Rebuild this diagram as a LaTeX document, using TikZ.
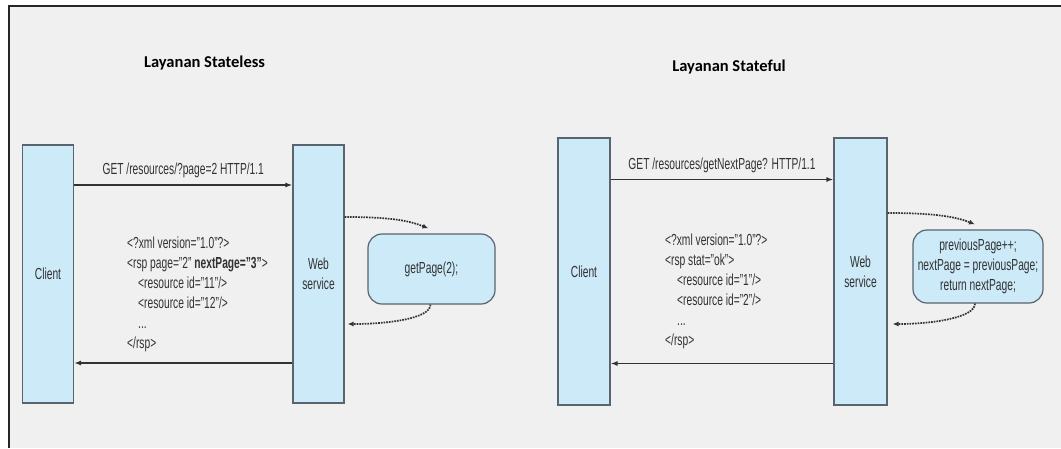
\documentclass[tikz,border=0pt]{standalone}
\usepackage{fontspec}
\setmainfont{Liberation Sans}[FakeStretch=0.64]
\newfontfamily\titlefont{Carlito}
\usepackage{xcolor}
\usetikzlibrary{arrows.meta}
\definecolor{barblue}{RGB}{204,234,248}
\definecolor{barline}{RGB}{88,100,110}
\definecolor{panelgray}{RGB}{240,240,240}
\definecolor{textgray}{RGB}{50,50,50}

\begin{document}
\begin{tikzpicture}[x=1pt, y=-1pt,
    bar/.style={draw=barline, line width=1.2pt, fill=barblue, inner sep=0pt,
      minimum width=51pt, align=center, text=textgray,
      font=\fontsize{16}{20}\selectfont},
    codebox/.style={draw=barline, line width=1.2pt, fill=barblue, rounded corners=14pt,
      inner sep=0pt, align=center, text=textgray, font=\fontsize{16}{20}\selectfont},
    xml/.style={anchor=north west, inner sep=0pt, align=left, text=textgray,
      font=\fontsize{16}{20}\selectfont},
    heading/.style={inner sep=0pt, font=\titlefont\bfseries\fontsize{16.5}{18}\selectfont},
    msg/.style={draw=textgray, line width=1.3pt, -{Latex[length=7pt,width=5pt]}},
    dotarrow/.style={draw=textgray, line width=1.7pt, densely dotted,
      -{Latex[length=6pt,width=5pt]}}]
    \useasboundingbox (0,0) rectangle (1061,448);
    \fill[panelgray] (9,6) rectangle (1061,448);
    \draw[line width=1.5pt, draw=black!85] (1061,6) -- (9,6) -- (9,448);

    % stateless
    \node[heading] (title1) at (204.5,63) {Layanan Stateless};
    \node[bar, minimum height=258pt] (client1) at (48,274) {Client};
    \node[bar, minimum height=258pt] (ws1) at (318.5,274) {Web\\service};
    \node[codebox, minimum width=127pt, minimum height=70pt] (page1) at (431.5,269) {getPage(2);};

    \draw[msg] ([yshift=89pt]client1.east) -- node[above=3pt, text=textgray,
      font=\fontsize{16}{16}\selectfont] (get1) {GET /resources/?page=2 HTTP/1.1}
      ([yshift=89pt]ws1.west);
    \draw[msg] ([yshift=-89pt]ws1.west) -- ([yshift=-89pt]client1.east);
    \node[xml] (rsp1) at (127,237) {<?xml version="1.0"?>\\
      <rsp page="2" \textbf{nextPage="3"}>\\
      \hspace*{11pt}<resource id="11"/>\\
      \hspace*{11pt}<resource id="12"/>\\
      \hspace*{11pt}...\\
      </rsp>};

    \draw[dotarrow] ([yshift=57pt]ws1.east) .. controls +(45,0) and +(-20,-8) .. ([xshift=-3pt,yshift=5pt]page1.north);
    \draw[dotarrow] ([xshift=-1pt]page1.south) .. controls +(0,14) and +(40,0) .. ([xshift=3pt,yshift=-50pt]ws1.east);

    % stateful
    \node[heading] (title2) at (729,67) {Layanan Stateful};
    \node[bar, minimum width=52pt, minimum height=267pt] (client2) at (584,271.5) {Client};
    \node[bar, minimum width=53pt, minimum height=267pt] (ws2) at (860.5,271.5) {Web\\service};
    \node[codebox, minimum width=130pt, minimum height=73pt] (page2) at (978,266.5)
      {previousPage++;\\nextPage = previousPage;\\return nextPage;};

    \draw[msg] ([yshift=92pt]client2.east) -- node[above=3pt, text=textgray,
      font=\fontsize{16}{16}\selectfont] (get2) {GET /resources/getNextPage? HTTP/1.1}
      ([yshift=92pt]ws2.west);
    \draw[msg] ([yshift=-92pt]ws2.west) -- ([yshift=-92pt]client2.east);
    \node[xml] (rsp2) at (665,234) {<?xml version="1.0"?>\\
      <rsp stat="ok">\\
      \hspace*{12pt}<resource id="1"/>\\
      \hspace*{12pt}<resource id="2"/>\\
      \hspace*{12pt}...\\
      </rsp>};

    \draw[dotarrow] ([yshift=58.5pt]ws2.east) .. controls +(45,0) and +(-20,-8) .. ([xshift=-3pt,yshift=5pt]page2.north);
    \draw[dotarrow] ([xshift=-3pt]page2.south) .. controls +(0,14) and +(40,0) .. ([xshift=5pt,yshift=-52.5pt]ws2.east);
\end{tikzpicture}
\end{document}
